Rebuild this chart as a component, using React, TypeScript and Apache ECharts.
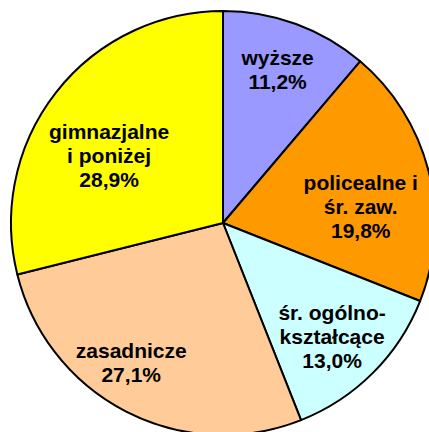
import React, { useEffect, useRef } from "react";
import * as echarts from "echarts";

const categories = ["wyższe", "policealne i\nśr. zaw.", "śr. ogólno-\nkształcące", "zasadnicze", "gimnazjalne\ni poniżej"];
const values = [11.2, 19.8, 13.0, 27.1, 28.9];
const colors = ["#9999FF", "#FF9900", "#CCFFFF", "#FFCC99", "#FFFF00"];
const labelShift = [
  [17, -51],
  [32, 10],
  [32, 36],
  [-42, 43],
  [-28, 0],
];

export default function App() {
  const ref = useRef<HTMLDivElement>(null);
  useEffect(() => {
    const chart = echarts.init(ref.current!, null, { renderer: "svg" });
    chart.setOption({
      animation: false,
      backgroundColor: "#ffffff",
      series: [
        {
          type: "pie",
          center: [223, 223],
          radius: 212,
          startAngle: 90,
          clockwise: true,
          silent: true,
          data: categories.map((c, i) => ({
            name: c,
            value: values[i],
            itemStyle: { color: colors[i] },
          })),
          itemStyle: { borderColor: "#000000", borderWidth: 2 },
          label: {
            show: true,
            position: "inside",
            formatter: (p: any) => p.name + "\n" + p.value.toFixed(1).replace(".", ",") + "%",
            fontFamily: "Liberation Sans, Arial, sans-serif",
            fontWeight: "bold",
            fontSize: 21,
            lineHeight: 24,
            color: "#000000",
            align: "center",
          },
          labelLayout: (p: any) => ({
            dx: labelShift[p.dataIndex][0],
            dy: labelShift[p.dataIndex][1],
          }),
          labelLine: { show: false },
        },
      ],
    });
    return () => chart.dispose();
  }, []);
  return (
    <div
      ref={ref}
      style={{ position: "fixed", left: 0, top: 0, width: 429, height: 432 }}
    />
  );
}
